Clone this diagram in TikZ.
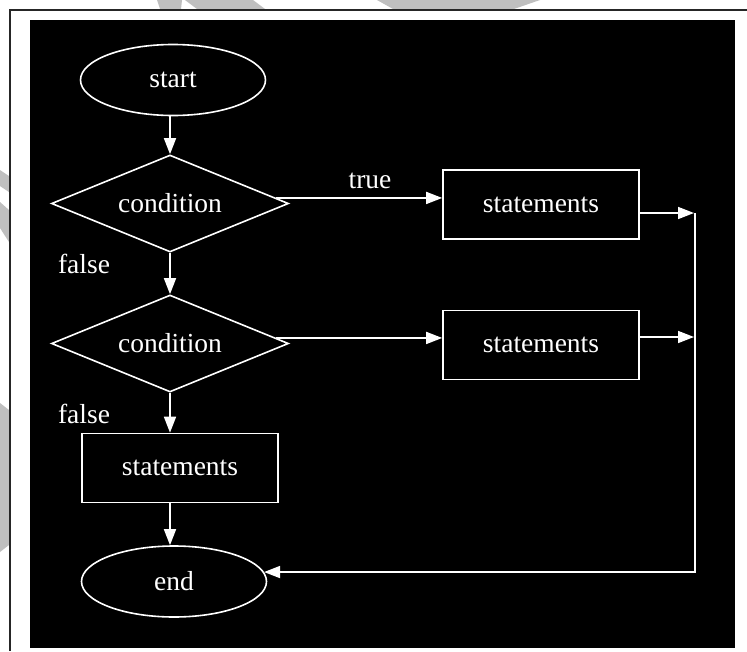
\documentclass[tikz,border=0pt]{standalone}
\usepackage{fontspec}
\setmainfont{Liberation Serif}
\usetikzlibrary{shapes.geometric,arrows.meta}
\begin{document}
\begin{tikzpicture}[x=1pt,y=-1pt,
  flowfont/.style={font=\fontsize{27.5}{30}\selectfont},
  flow/.style={draw=white, line width=1.6pt, text=white, flowfont, inner sep=0pt},
  terminal/.style={flow, ellipse, minimum width=185pt, minimum height=71pt},
  decision/.style={flow, diamond, shape aspect=2.44, minimum width=237pt, minimum height=97pt},
  process/.style={flow, rectangle, minimum width=196pt, minimum height=69pt},
  lbl/.style={text=white, flowfont, inner sep=0pt, anchor=base},
  link/.style={draw=white, line width=1.6pt, -{Triangle[length=16pt,width=12pt]}},
  wire/.style={draw=white, line width=1.6pt},
  wm/.style={fill=black!25, draw=none}]

% page, faint marks in the margin, frame and dark panel
\useasboundingbox (0,0) rectangle (747,651);
\fill[white] (0,0) rectangle (747,651);
\fill[wm] (157,0) -- (182,0) -- (181,9) -- (160,9) -- cycle;
\fill[wm] (185,0) -- (253,0) -- (265,9) -- (197,9) -- cycle;
\fill[wm] (377,0) -- (540,0) -- (514,9) -- (393,9) -- cycle;
\fill[wm] (0,170) -- (9,176) -- (9,192) -- (0,186) -- cycle;
\fill[wm] (0,202) -- (9,210) -- (9,242) -- (0,228) -- cycle;
\fill[wm] (0,403) -- (9,410) -- (9,545) -- (0,552) -- cycle;
\draw[line width=2pt, draw=black!85] (10,651) -- (10,10) -- (747,10);
\fill[black] (30,20) rectangle (735,648);

% flowchart nodes
\node[terminal] (start) at (173,80) {start};
\node[decision] (cond1) at (170,203.5) {condition};
\node[decision] (cond2) at (170,343.5) {condition};
\node[process] (stmt1) at (541,204.5) {statements};
\node[process] (stmt2) at (541,345) {statements};
\node[process] (stmt3) at (180,468) {statements};
\node[terminal] (end) at (174,581.5) {end};

% branch labels
\node[lbl] (ltrue) at (370,188) {true};
\node[lbl] (lfalse1) at (84,273) {false};
\node[lbl] (lfalse2) at (84,423) {false};

% collecting line on the right
\coordinate (bus1) at (695,213);
\coordinate (bus2) at (695,337);

% main column
\draw[link] (start.south -| cond1.north) -- (cond1.north);
\draw[link] (cond1.south) -- (cond2.north);
\draw[link] (cond2.south) -- (cond2.south |- stmt3.north);
\draw[link] (cond2.south |- stmt3.south) -- (cond2.south |- end.north);

% true branches
\draw[link] (cond1.3) -- (cond1.3 -| stmt1.west);
\draw[link] (cond2.3) -- (cond2.3 -| stmt2.west);
\draw[link, shorten >=1pt] (stmt1.east |- bus1) -- (bus1);
\draw[link, shorten >=1pt] (stmt2.east |- bus2) -- (bus2);

% back to the end
\draw[link] (bus1) -- (bus1 |- end.6) -- (end.6);
\end{tikzpicture}
\end{document}
